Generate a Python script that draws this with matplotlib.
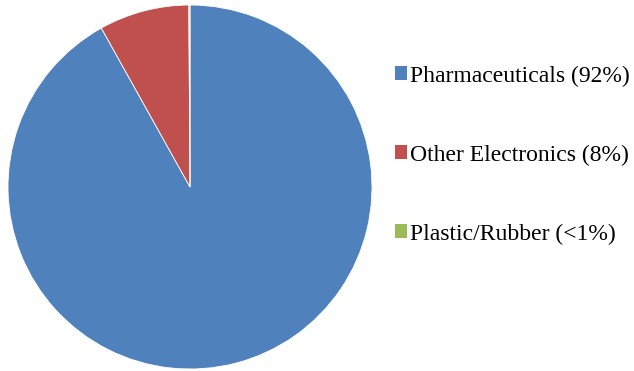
import matplotlib
matplotlib.use("Agg")
import matplotlib.pyplot as plt

categories = ["Pharmaceuticals", "Other Electronics", "Plastic/Rubber"]
shares = [91.9, 8.0, 0.1]
share_labels = ["92%", "8%", "<1%"]
colors = ["#4F81BD", "#C0504D", "#9BBB59"]

plt.rcParams['font.family'] = ['Liberation Serif', 'DejaVu Serif']

fig = plt.figure(figsize=(6.34, 3.71), dpi=100)
ax = fig.add_axes([8/634, 2/371, 364/634, 364/371])
wedges, _ = ax.pie(shares, colors=colors, startangle=90, counterclock=False,
                   wedgeprops=dict(edgecolor="white", linewidth=0.6))
ax.set_xlim(-1.0, 1.0)
ax.set_ylim(-1.0, 1.0)
ax.set_aspect("equal")

labels = [f"{c} ({s})" for c, s in zip(categories, share_labels)]
leg = fig.legend(wedges, labels, loc="center left", bbox_to_anchor=(395/634, 1 - 155/371),
                 frameon=False, fontsize=17, handlelength=0.5, handleheight=0.5,
                 handletextpad=0.15, labelspacing=2.45, borderpad=0, borderaxespad=0)
for h in leg.legend_handles:
    h.set_edgecolor("none")
fig.savefig("out.png", dpi=100)
